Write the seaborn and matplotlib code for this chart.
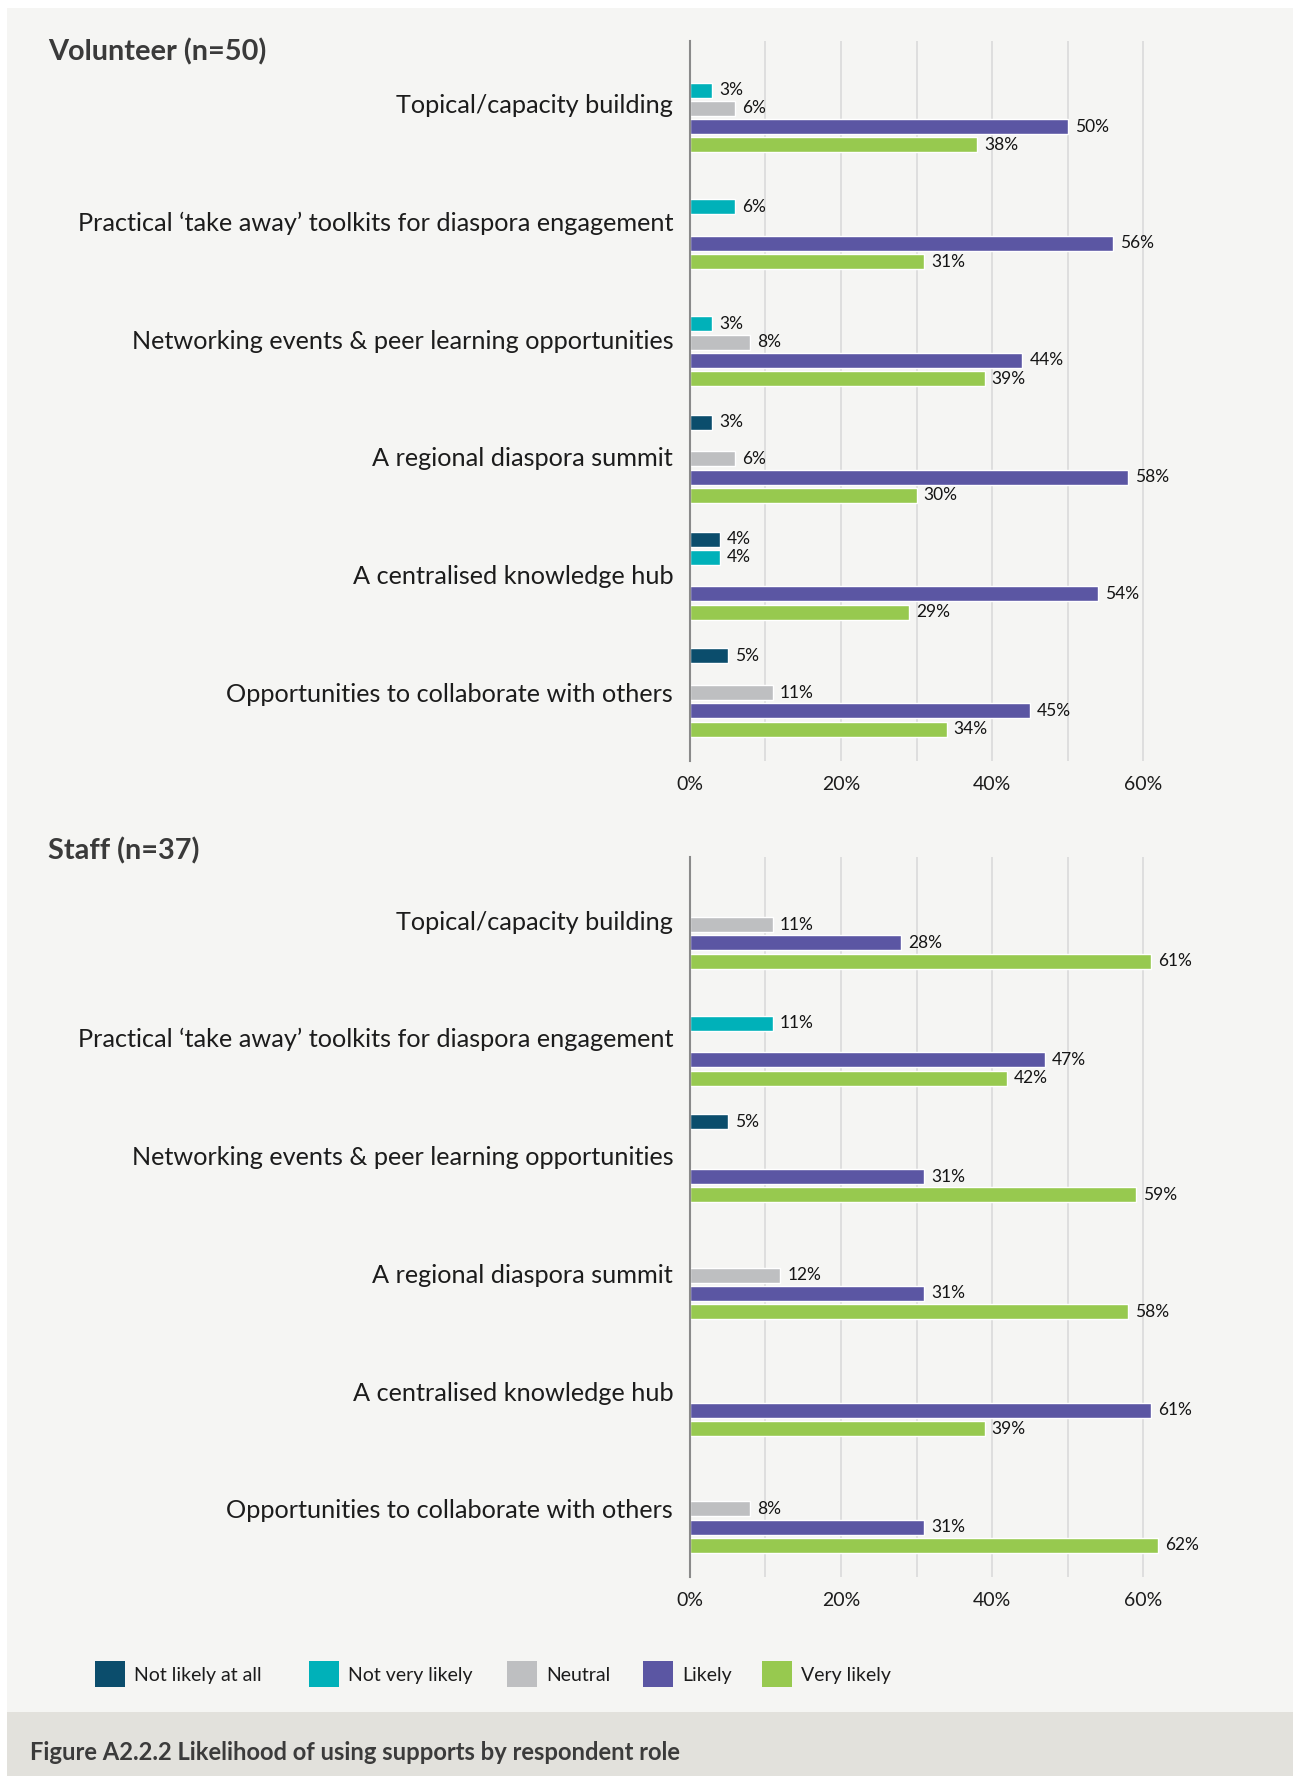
import numpy as np
import pandas as pd
import seaborn as sns
import matplotlib.pyplot as plt
import matplotlib.patches as mpatches

sns.set_theme(style="white")
plt.rcParams["font.family"] = ["Lato", "DejaVu Sans"]

# ---- data -------------------------------------------------------------
supports = [
    "Topical/capacity building",
    "Practical \u2018take away\u2019 toolkits for diaspora engagement",
    "Networking events & peer learning opportunities",
    "A regional diaspora summit",
    "A centralised knowledge hub",
    "Opportunities to collaborate with others",
]
responses = ["Not likely at all", "Not very likely", "Neutral", "Likely", "Very likely"]
colors = ["#0b4d6c", "#00b1b9", "#bebfc1", "#5b56a3", "#97c94f"]

# percentages per support, one list per response level (None = not reported)
volunteer_not_at_all = [None, None, None, 3, 4, 5]
volunteer_not_very = [3, 6, 3, None, 4, None]
volunteer_neutral = [6, None, 8, 6, None, 11]
volunteer_likely = [50, 56, 44, 58, 54, 45]
volunteer_very = [38, 31, 39, 30, 29, 34]

staff_not_at_all = [None, None, 5, None, None, None]
staff_not_very = [None, 11, None, None, None, None]
staff_neutral = [11, None, None, 12, None, 8]
staff_likely = [28, 47, 31, 31, 61, 31]
staff_very = [61, 42, 59, 58, 39, 62]

groups = [
    ("Volunteer (n=50)", [volunteer_not_at_all, volunteer_not_very, volunteer_neutral,
                          volunteer_likely, volunteer_very]),
    ("Staff (n=37)", [staff_not_at_all, staff_not_very, staff_neutral,
                      staff_likely, staff_very]),
]


def to_frame(series):
    rows = []
    for resp, vals in zip(responses, series):
        for sup, v in zip(supports, vals):
            if v is not None:
                rows.append({"support": sup, "response": resp, "pct": v})
    return pd.DataFrame(rows)


# ---- figure -----------------------------------------------------------
W, H = 1293, 1776
fig = plt.figure(figsize=(W / 100, H / 100), dpi=100, facecolor="white")

# panel background and caption band
fig.patches.append(mpatches.Rectangle((7 / W, 0), 1, 1 - 8 / H, transform=fig.transFigure,
                                      facecolor="#f5f5f3", edgecolor="none", zorder=-10))
fig.patches.append(mpatches.Rectangle((7 / W, 0), 1, (H - 1712) / H, transform=fig.transFigure,
                                      facecolor="#e2e1dc", edgecolor="none", zorder=-9))

px_per_pct = 453.5 / 60
ax_left = 689.8 / W
ax_width = 66 * px_per_pct / W
panel_tops = [40.7, 857.0]
panel_h = 720.3
title_y = [52, 851]

for (title, series), top, ty in zip(groups, panel_tops, title_y):
    ax = fig.add_axes([ax_left, 1 - (top + panel_h) / H, ax_width, panel_h / H])
    ax.set_facecolor("none")
    df = to_frame(series)
    sns.barplot(data=df, x="pct", y="support", hue="response",
                order=supports, hue_order=responses, palette=colors,
                orient="h", width=0.783, gap=0.18, dodge=True,
                errorbar=None, legend=False, saturation=1, ax=ax)
    for cont in ax.containers:
        ax.bar_label(cont, labels=[f"{b.get_width():.0f}%" for b in cont],
                     padding=5, fontsize=12.5, color="#151515")
    ax.set_xlim(0, 66)
    ax.set_ylim(5.586, -0.579)
    ax.set_xticks(np.arange(0, 61, 10))
    ax.set_xticklabels(["0%", "", "20%", "", "40%", "", "60%"])

    # category labels, set a little above their bar groups (less so further down)
    ax.set_yticks(range(len(supports)))
    ax.set_yticklabels([])
    for i, sup in enumerate(supports):
        ax.annotate(sup, xy=(0, i), xycoords=("axes fraction", "data"),
                    xytext=(-12, 3.3 - 0.65 * i), textcoords="offset points",
                    ha="right", va="center_baseline", fontsize=18.2, color="#1c1c1c")

    ax.grid(axis="x", color="#dedede", linewidth=1.4)
    ax.grid(axis="y", visible=False)
    ax.set_axisbelow(True)
    ax.tick_params(axis="x", length=0, pad=10.5, labelsize=14, labelcolor="#1c1c1c")
    ax.tick_params(axis="y", length=0)
    ax.set_xlabel("")
    ax.set_ylabel("")
    for s in ["top", "right", "bottom"]:
        ax.spines[s].set_visible(False)
    ax.spines["left"].set_color("#8a8a8a")
    ax.spines["left"].set_linewidth(1.5)
    fig.text(48 / W, 1 - ty / H, title, fontsize=20.8, fontweight="bold",
             color="#3a3a3a", va="center", ha="left")

# legend: swatch + label per response level
legend_x = [95, 309, 507, 643, 762]
for x0, c, r in zip(legend_x, colors, responses):
    fig.patches.append(mpatches.Rectangle((x0 / W, 1 - 1687 / H), 30 / W, 26 / H,
                                          transform=fig.transFigure, facecolor=c,
                                          edgecolor="none"))
    fig.text((x0 + 39) / W, 1 - 1675 / H, r, fontsize=14, color="#1c1c1c",
             va="center", ha="left")

fig.text(30 / W, 1 - 1752 / H, "Figure A2.2.2 Likelihood of using supports by respondent role",
         fontsize=17.15, fontweight="bold", color="#3b3b3b", va="center", ha="left")

fig.savefig("out.png", dpi=100, facecolor=fig.get_facecolor())
